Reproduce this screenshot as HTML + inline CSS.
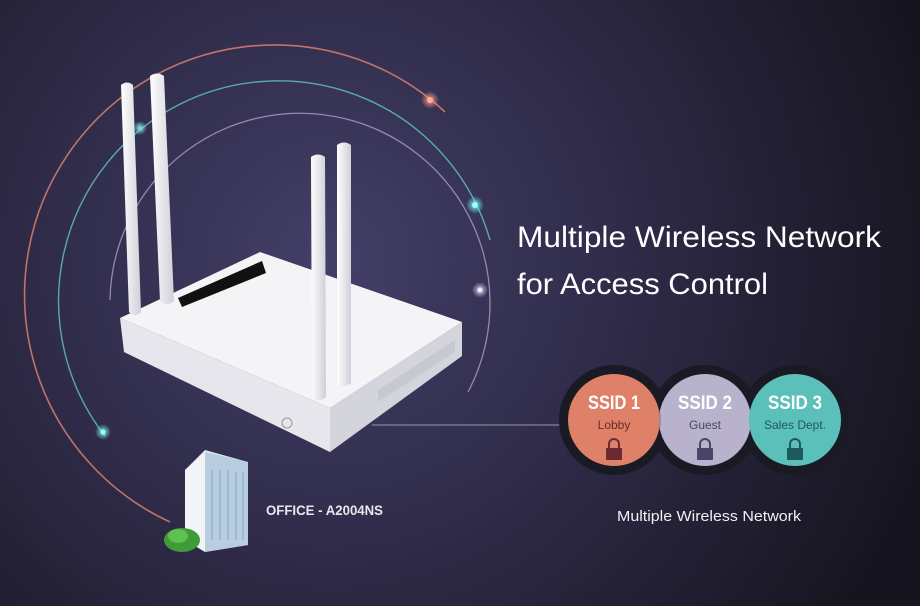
<!DOCTYPE html>
<html><head><meta charset="utf-8"><style>
html,body{margin:0;padding:0;width:920px;height:606px;overflow:hidden;background:#1c1c2c}
svg{display:block}
text{font-family:"Liberation Sans",sans-serif}
</style></head><body>
<svg width="920" height="606" viewBox="0 0 920 606" xmlns="http://www.w3.org/2000/svg">
<defs>
<radialGradient id="bg" cx="330" cy="260" r="620" gradientUnits="userSpaceOnUse">
<stop offset="0" stop-color="#433f68"/><stop offset="0.45" stop-color="#302c4a"/><stop offset="1" stop-color="#16151f"/>
</radialGradient>
<radialGradient id="glowO"><stop offset="0" stop-color="#ff9a80"/><stop offset="1" stop-color="#ff9a80" stop-opacity="0"/></radialGradient>
<radialGradient id="glowT"><stop offset="0" stop-color="#7ff0ee"/><stop offset="1" stop-color="#7ff0ee" stop-opacity="0"/></radialGradient>
<radialGradient id="glowP"><stop offset="0" stop-color="#d8d0f0"/><stop offset="1" stop-color="#d8d0f0" stop-opacity="0"/></radialGradient>
<linearGradient id="ant" x1="0" x2="1"><stop offset="0" stop-color="#ffffff"/><stop offset="1" stop-color="#cfd0d8"/></linearGradient>
</defs>
<rect width="920" height="606" fill="url(#bg)"/>
<path d="M170,522 A250,250 0 1 1 445,112" fill="none" stroke="#d98070" stroke-width="1.6" opacity="0.85"/>
<path d="M105,436 A220,220 0 1 1 490,240" fill="none" stroke="#5fc0c0" stroke-width="1.4" opacity="0.85"/>
<path d="M110,300 A190,190 0 1 1 468,392" fill="none" stroke="#a8a0c8" stroke-width="1.3" opacity="0.8"/>
<circle cx="430" cy="100" r="9" fill="url(#glowO)"/><circle cx="430" cy="100" r="3" fill="#ffb09a"/>
<circle cx="475" cy="205" r="9" fill="url(#glowT)"/><circle cx="475" cy="205" r="3" fill="#9ff"/>
<circle cx="480" cy="290" r="8" fill="url(#glowP)"/><circle cx="480" cy="290" r="2.5" fill="#eee"/>
<circle cx="103" cy="432" r="8" fill="url(#glowT)"/><circle cx="103" cy="432" r="2.5" fill="#9ff"/>
<circle cx="140" cy="128" r="7" fill="url(#glowT)"/>
<line x1="372" y1="425" x2="560" y2="425" stroke="#9a9aaa" stroke-width="1"/>
<polygon points="120,318 330,408 330,452 124,352" fill="#e6e6ec"/>
<polygon points="330,408 462,322 462,356 330,452" fill="#d4d4dc"/>
<polygon points="120,318 260,252 462,322 330,408" fill="#f4f4f7"/>
<polygon points="178,298 262,261 266,273 182,307" fill="#111"/>
<polygon points="378,390 455,340 455,352 378,402" fill="#c0c0c8" opacity="0.6"/>
<circle cx="287" cy="423" r="5" fill="none" stroke="#999" stroke-width="1"/>
<path d="M121,85 q6,-5 12,0 l8,227 q-6,6 -12,0 z" fill="url(#ant)"/>
<path d="M150,76 q7,-5 14,0 l10,225 q-7,6 -14,0 z" fill="url(#ant)"/>
<path d="M311,157 q7,-5 14,0 l1,240 q-7,6 -14,0 z" fill="url(#ant)"/>
<path d="M337,145 q7,-5 14,0 l0,238 q-7,6 -14,0 z" fill="url(#ant)"/>
<polygon points="185,470 205,450 248,462 248,545 205,552" fill="#dfe6ee"/>
<polygon points="205,452 248,462 248,545 205,552" fill="#b9cde0"/>
<polygon points="185,470 205,452 205,552 185,540" fill="#f2f4f8"/>
<g stroke="#7fa8cc" stroke-width="1">
<line x1="212" y1="470" x2="212" y2="540"/><line x1="220" y1="470" x2="220" y2="540"/><line x1="228" y1="470" x2="228" y2="540"/><line x1="236" y1="472" x2="236" y2="540"/><line x1="243" y1="472" x2="243" y2="540"/>
</g>
<ellipse cx="182" cy="540" rx="18" ry="12" fill="#3f9a38"/>
<ellipse cx="178" cy="536" rx="10" ry="7" fill="#5fbf50"/>
<text x="266" y="515" font-size="13.5" font-weight="bold" fill="#e8e8ee" textLength="117" lengthAdjust="spacingAndGlyphs">OFFICE - A2004NS</text>
<text x="517" y="247" font-size="30" fill="#fff" textLength="364" lengthAdjust="spacingAndGlyphs">Multiple Wireless Network</text>
<text x="517" y="294" font-size="30" fill="#fff" textLength="251" lengthAdjust="spacingAndGlyphs">for Access Control</text>
<circle cx="614" cy="420" r="55" fill="#1a1a24"/>
<circle cx="705" cy="420" r="55" fill="#1a1a24"/>
<circle cx="795" cy="420" r="55" fill="#1a1a24"/>
<circle cx="614" cy="420" r="46" fill="#df8169"/>
<circle cx="705" cy="420" r="46" fill="#b9b2cc"/>
<circle cx="795" cy="420" r="46" fill="#5bc0b9"/>
<path d="M659,410 A46,46 0 0 1 659,430" fill="none" stroke="#8a6a70" stroke-width="2" opacity="0.5"/>
<g font-weight="bold" font-size="19" fill="#fff" text-anchor="middle">
<text x="614" y="409" textLength="52" lengthAdjust="spacingAndGlyphs">SSID 1</text><text x="705" y="409" textLength="54" lengthAdjust="spacingAndGlyphs">SSID 2</text><text x="795" y="409" textLength="54" lengthAdjust="spacingAndGlyphs">SSID 3</text>
</g>
<g font-size="12" text-anchor="middle">
<text x="614" y="429" fill="#6a2a26">Lobby</text><text x="705" y="429" fill="#4a4466">Guest</text><text x="795" y="429" fill="#1e5a5a">Sales Dept.</text>
</g>
<g>
<path d="M609,448 v-4 a5,5 0 0 1 10,0 v4" fill="none" stroke="#6a2a30" stroke-width="2"/><rect x="606" y="448" width="16" height="12" rx="1" fill="#6a2a30"/>
<path d="M700,448 v-4 a5,5 0 0 1 10,0 v4" fill="none" stroke="#4a4468" stroke-width="2"/><rect x="697" y="448" width="16" height="12" rx="1" fill="#4a4468"/>
<path d="M790,448 v-4 a5,5 0 0 1 10,0 v4" fill="none" stroke="#1d5a5c" stroke-width="2"/><rect x="787" y="448" width="16" height="12" rx="1" fill="#1d5a5c"/>
</g>
<text x="709" y="521" font-size="14.5" fill="#f0f0f4" text-anchor="middle" textLength="184" lengthAdjust="spacingAndGlyphs">Multiple Wireless Network</text>
</svg>
</body></html>
